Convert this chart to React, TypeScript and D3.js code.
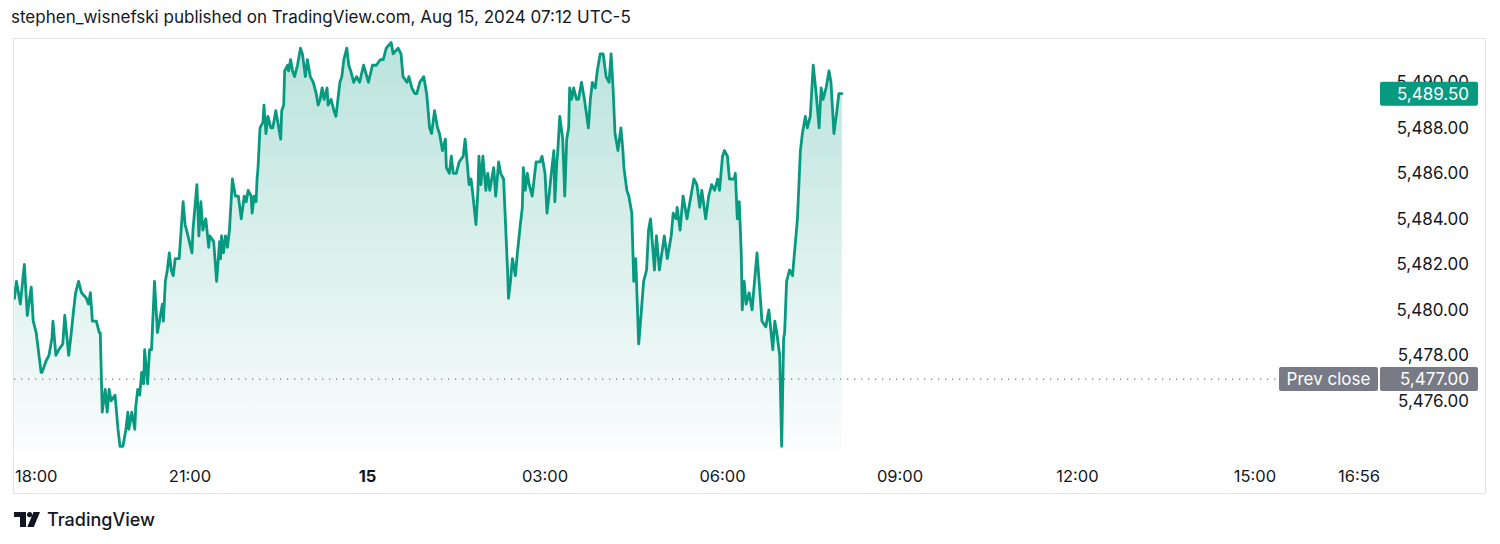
import React from "react";
import * as d3 from "d3";

// [minutes since 18:00, price]
const segEvening: [number, number][] = [
  [2, 5480.5], [4, 5481.25], [8, 5480.25], [12, 5482.0], [15, 5479.75], [19, 5481.0], [21, 5479.5], [24, 5479.0],
  [29, 5477.25], [30, 5477.25], [34, 5477.75], [37, 5478.0], [40, 5478.75], [41, 5479.5], [44, 5478.0], [47, 5478.25],
  [51, 5478.5], [53, 5479.75], [57, 5478.0], [59, 5478.75], [62, 5480.0], [64, 5480.75], [67, 5481.25], [70, 5480.75],
  [75, 5480.5], [77, 5480.25], [79, 5480.75], [81, 5479.5], [85, 5479.5], [88, 5479.0], [89, 5479.0], [91, 5475.5],
  [94, 5476.5], [96, 5475.5], [98, 5476.5], [100, 5476.0], [104, 5476.25], [107, 5474.75], [109, 5474.0], [112, 5474.0],
  [115, 5474.75], [117, 5475.5], [118, 5474.75], [121, 5475.5], [124, 5474.75], [125, 5475.75], [127, 5476.5], [129, 5476.25],
  [131, 5477.25], [133, 5476.75], [134, 5478.25], [137, 5476.75], [139, 5478.25], [141, 5478.25], [144, 5481.25], [147, 5479.0],
  [149, 5479.5], [152, 5480.25], [153, 5479.5], [155, 5481.25], [157, 5481.75], [159, 5482.5], [161, 5481.75], [163, 5481.5],
  [165, 5482.25], [169, 5482.25], [171, 5483.5], [173, 5484.75], [175, 5483.75], [178, 5483.25], [182, 5482.5], [183, 5483.5],
  [187, 5485.5], [189, 5483.25], [191, 5484.75], [193, 5483.5], [196, 5484.0], [199, 5482.75], [200, 5483.25], [204, 5483.0],
  [207, 5481.25], [210, 5483.0],
];

const segNight: [number, number][] = [
  [211, 5482.25], [212, 5483.25], [214, 5482.5], [216, 5483.25], [218, 5482.75], [220, 5483.5], [223, 5485.75], [226, 5485.0],
  [229, 5485.0], [232, 5484.0], [235, 5485.0], [237, 5484.75], [239, 5485.25], [242, 5485.0], [243, 5484.25], [245, 5485.0],
  [247, 5484.75], [248, 5485.75], [249, 5486.25], [251, 5488.0], [254, 5488.25], [255, 5489.0], [257, 5487.75], [259, 5488.5],
  [262, 5488.0], [264, 5488.0], [267, 5488.75], [272, 5487.5], [273, 5488.75], [275, 5489.0], [276, 5490.5], [279, 5490.75],
  [280, 5490.5], [282, 5491.0], [284, 5490.5], [286, 5490.25], [289, 5490.75], [292, 5491.5], [294, 5491.25], [297, 5490.25],
  [299, 5491.0], [302, 5490.25], [305, 5490.0], [308, 5489.5], [310, 5489.0], [312, 5489.25], [314, 5489.75], [316, 5489.25],
  [319, 5489.75], [320, 5489.0], [323, 5489.25], [326, 5488.75], [328, 5488.5], [330, 5489.25], [332, 5490.0], [334, 5490.25],
  [336, 5491.0], [339, 5491.5], [341, 5490.75], [343, 5490.5], [346, 5490.0], [349, 5490.25], [352, 5490.0], [356, 5490.75],
  [361, 5490.0], [365, 5490.75], [369, 5490.75], [373, 5491.0], [376, 5491.0], [379, 5491.5], [384, 5491.75], [386, 5491.25],
  [391, 5491.5], [394, 5491.25], [396, 5490.25], [400, 5490.0], [402, 5490.25], [405, 5489.75], [408, 5489.5], [410, 5489.5],
  [413, 5490.0], [417, 5490.25], [420, 5489.5], [423, 5488.0],
];

const segEarly: [number, number][] = [
  [425, 5487.75], [428, 5488.75], [431, 5488.0], [433, 5487.75], [436, 5487.0], [439, 5487.5], [440, 5486.25], [443, 5486.0],
  [445, 5486.75], [447, 5486.0], [450, 5486.0], [453, 5486.5], [457, 5486.75], [459, 5487.5], [461, 5486.5], [463, 5485.5],
  [465, 5485.75], [467, 5485.0], [470, 5483.75], [472, 5485.25], [473, 5486.75], [475, 5485.5], [477, 5486.75], [480, 5485.25],
  [482, 5486.0], [484, 5485.25], [488, 5486.25], [490, 5485.0], [493, 5486.5], [495, 5486.0], [498, 5485.75], [500, 5483.75],
  [502, 5481.75], [503, 5480.5], [505, 5481.25], [507, 5482.25], [510, 5481.5], [512, 5482.5], [515, 5483.75], [517, 5484.5],
  [518, 5486.25], [520, 5485.25], [522, 5486.0], [524, 5485.5], [527, 5485.0], [531, 5486.5], [535, 5486.5], [537, 5486.75],
  [540, 5486.0], [542, 5484.25], [544, 5485.0], [547, 5486.25], [549, 5487.0], [550, 5484.75], [552, 5486.5], [553, 5487.0],
  [555, 5488.5], [558, 5487.5], [560, 5485.0], [562, 5487.5], [564, 5488.0], [565, 5489.75], [567, 5489.25], [569, 5489.75],
  [572, 5489.25], [574, 5489.25], [577, 5490.0], [580, 5489.25], [584, 5488.0], [586, 5489.25], [588, 5490.0], [591, 5489.75],
  [593, 5490.5], [596, 5491.25], [599, 5491.25], [602, 5490.25], [605, 5490.0], [607, 5491.25], [609, 5489.75], [611, 5487.75],
  [614, 5487.0], [617, 5488.0], [619, 5487.0], [620, 5486.25], [623, 5485.25], [625, 5485.0], [628, 5484.25], [630, 5481.25],
  [632, 5482.25], [635, 5478.5], [636, 5479.0],
];

const segMorning: [number, number][] = [
  [640, 5481.25], [643, 5481.75], [645, 5483.5], [647, 5484.0], [651, 5481.75], [653, 5483.25], [656, 5481.75], [661, 5483.25],
  [664, 5482.25], [668, 5483.25], [670, 5484.25], [673, 5484.0], [674, 5484.5], [677, 5483.5], [680, 5485.0], [684, 5484.0],
  [688, 5485.0], [691, 5485.75], [694, 5485.5], [697, 5484.5], [699, 5485.25], [703, 5484.0], [706, 5485.0], [709, 5485.5],
  [712, 5485.25], [715, 5485.75], [717, 5485.25], [720, 5486.75], [722, 5487.0], [725, 5486.75], [727, 5485.75], [732, 5485.75],
  [733, 5486.0], [735, 5484.0], [737, 5484.75], [739, 5482.5], [740, 5480.0], [742, 5481.25], [744, 5480.25], [747, 5480.75],
  [750, 5480.0], [755, 5482.5], [758, 5480.75], [760, 5479.5], [764, 5479.25], [767, 5480.0], [771, 5478.25], [773, 5479.5],
  [775, 5479.0], [778, 5478.0], [780, 5474.0], [782, 5478.75], [783, 5479.0], [785, 5481.25], [788, 5481.75], [791, 5481.5],
  [792, 5482.0], [796, 5484.0], [799, 5487.0], [801, 5487.75], [804, 5488.5], [806, 5488.0], [809, 5488.5], [812, 5490.75],
  [815, 5489.5], [818, 5488.0], [820, 5489.75], [822, 5489.25], [825, 5489.75], [828, 5490.5], [830, 5490.0], [833, 5487.75],
  [836, 5488.75], [838, 5489.5], [841, 5489.5],
];

const priceTicks = [5476, 5478, 5480, 5482, 5484, 5486, 5488, 5490];
const timeTickMinutes = [0, 180, 360, 540, 720, 900, 1080, 1260, 1376];
const timeTickLabels = ["18:00", "21:00", "15", "03:00", "06:00", "09:00", "12:00", "15:00", "16:56"];
const timeTickBold = [false, false, true, false, false, false, false, false, false];
const lastPrice = 5489.5;
const prevClose = 5477;
const titleText = "stephen_wisnefski published on TradingView.com, Aug 15, 2024 07:12 UTC-5";

const GREEN = "#089981";
const TEXT = "#131722";
const GREY = "#787b86";
const FONT = "Inter, Roboto, 'Noto Sans', sans-serif";

export default function App() {
  const W = 1500;
  const H = 544;
  const plotLeft = 13.5;
  const plotRight = 1379;
  const plotBottom = 450;

  const data: [number, number][] = [...segEvening, ...segNight, ...segEarly, ...segMorning];

  const x = d3.scaleLinear().domain([0, 1260]).range([12.5, 1255]);
  const y = d3.scaleLinear().domain([5476, 5490]).range([400.8, 82.3]);

  const line = d3
    .line<[number, number]>()
    .x((d) => x(d[0]))
    .y((d) => y(d[1]));
  const area = d3
    .area<[number, number]>()
    .x((d) => x(d[0]))
    .y0(plotBottom)
    .y1((d) => y(d[1]));
  const fmt = d3.format(",.2f");

  const halfLabel = 23;

  return (
    <svg
      width={W}
      height={H}
      style={{ position: "absolute", left: 0, top: 0, background: "#ffffff" }}
      fontFamily={FONT}
    >
      <defs>
        <linearGradient id="areaGrad" gradientUnits="userSpaceOnUse" x1="0" y1="40" x2="0" y2={plotBottom}>
          <stop offset="0" stopColor={GREEN} stopOpacity={0.28} />
          <stop offset="1" stopColor={GREEN} stopOpacity={0.02} />
        </linearGradient>
        <clipPath id="plotClip">
          <rect x={plotLeft + 0.5} y={39} width={plotRight - plotLeft} height={plotBottom - 39 + 2} />
        </clipPath>
      </defs>

      <text x={11} y={23} fontSize={17} fill={TEXT}>
        {titleText}
      </text>

      <rect x={13.5} y={38.5} width={1472} height={455} fill="none" stroke="#e0e3eb" strokeWidth={1} />

      {/* prev close dotted line */}
      <line
        x1={14}
        x2={1278}
        y1={y(prevClose) + 1}
        y2={y(prevClose) + 1}
        stroke={GREY}
        strokeWidth={1.3}
        strokeDasharray="1.3 5.7"
      />

      <g clipPath="url(#plotClip)">
        <path d={area(data) || ""} fill="url(#areaGrad)" />
        <path
          d={line(data) || ""}
          fill="none"
          stroke={GREEN}
          strokeWidth={2.8}
          strokeLinejoin="round"
          strokeLinecap="round"
        />
      </g>

      {/* price axis labels */}
      {priceTicks.map((p) => (
        <text key={p} x={1469} y={y(p)} fontSize={17} fill={TEXT} textAnchor="end" dominantBaseline="central">
          {fmt(p)}
        </text>
      ))}

      {/* last price label */}
      <rect x={1380} y={y(lastPrice) - 12} width={98} height={24} rx={2} fill={GREEN} />
      <text
        x={1469}
        y={y(lastPrice)}
        fontSize={17}
        fill="#ffffff"
        textAnchor="end"
        dominantBaseline="central"
      >
        {fmt(lastPrice)}
      </text>

      {/* prev close labels */}
      <rect x={1279} y={y(prevClose) - 11} width={99} height={24} rx={2} fill={GREY} />
      <text x={1328.5} y={y(prevClose) + 1} fontSize={17} fill="#ffffff" textAnchor="middle" dominantBaseline="central">
        Prev close
      </text>
      <rect x={1380} y={y(prevClose) - 11} width={98} height={24} rx={2} fill={GREY} />
      <text x={1469} y={y(prevClose) + 1} fontSize={17} fill="#ffffff" textAnchor="end" dominantBaseline="central">
        {fmt(prevClose)}
      </text>

      {/* time axis labels */}
      {timeTickMinutes.map((m, i) => {
        const px = x(m);
        let anchor: "start" | "middle" | "end" = "middle";
        let tx = px;
        if (px - halfLabel < plotLeft) {
          anchor = "start";
          tx = 15;
        } else if (px + halfLabel > plotRight) {
          anchor = "end";
          tx = plotRight + 1;
        }
        return (
          <text
            key={m}
            x={tx}
            y={476}
            fontSize={16.5}
            fill={TEXT}
            textAnchor={anchor}
            dominantBaseline="central"
            fontWeight={timeTickBold[i] ? 700 : 400}
          >
            {timeTickLabels[i]}
          </text>
        );
      })}

      {/* TradingView logo */}
      <g fill={TEXT}>
        <path d="M14 512 H26 V527 H20 V517 H14 Z" />
        <circle cx={29.6} cy={514.6} r={2.6} />
        <path d="M33.5 512 H40 L33.8 527 H27.3 Z" />
      </g>
      <text x={47} y={526} fontSize={18} fontWeight={500} fill={TEXT}>
        TradingView
      </text>
    </svg>
  );
}
